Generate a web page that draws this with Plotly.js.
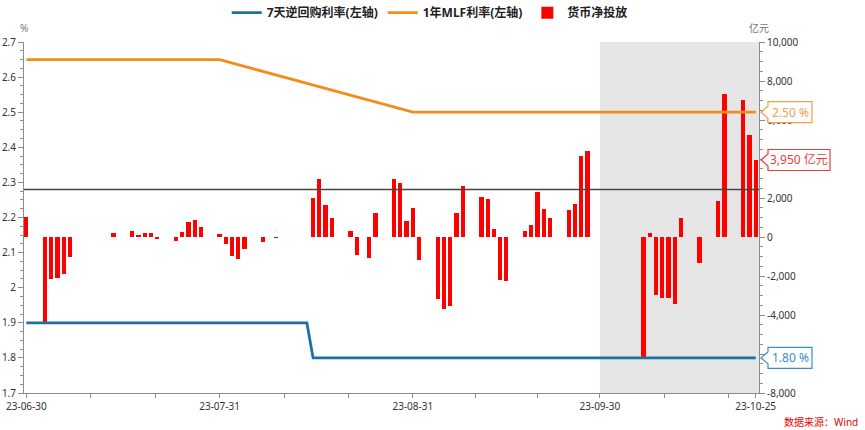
<!DOCTYPE html>
<html>
<head>
<meta charset="utf-8">
<script src="https://cdn.plot.ly/plotly-3.0.1.min.js"></script>
<style>html,body{margin:0;padding:0;background:#fff}#chart{width:865px;height:430px}</style>
</head>
<body>
<div id="chart"></div>
<script>
// ---------- data ----------
const repoDates  = ['2023-06-30', '2023-08-14', '2023-08-15', '2023-10-25'];
const repoRates  = [1.90, 1.90, 1.80, 1.80];

const mlfDates   = ['2023-06-30', '2023-07-31', '2023-08-31', '2023-09-30', '2023-10-25'];
const mlfRates   = [2.65, 2.65, 2.50, 2.50, 2.50];

const netDates = [
  '2023-06-30','2023-07-03','2023-07-04','2023-07-05','2023-07-06','2023-07-07',
  '2023-07-10','2023-07-13','2023-07-14','2023-07-17','2023-07-18','2023-07-19',
  '2023-07-20','2023-07-21','2023-07-24','2023-07-25','2023-07-26','2023-07-27',
  '2023-07-28','2023-07-31','2023-08-01','2023-08-02','2023-08-03','2023-08-04',
  '2023-08-07','2023-08-08','2023-08-09','2023-08-10','2023-08-14','2023-08-15',
  '2023-08-16','2023-08-17','2023-08-18','2023-08-21','2023-08-22','2023-08-23',
  '2023-08-24','2023-08-25','2023-08-28','2023-08-29','2023-08-30','2023-08-31',
  '2023-09-01','2023-09-04','2023-09-05','2023-09-06','2023-09-07','2023-09-08',
  '2023-09-11','2023-09-12','2023-09-13','2023-09-14','2023-09-15','2023-09-18',
  '2023-09-19','2023-09-20','2023-09-21','2023-09-22','2023-09-25','2023-09-26',
  '2023-09-27','2023-09-28','2023-10-07','2023-10-08','2023-10-09','2023-10-10',
  '2023-10-11','2023-10-12','2023-10-13','2023-10-16','2023-10-17','2023-10-18',
  '2023-10-19','2023-10-20','2023-10-23','2023-10-24','2023-10-25'
];
const netValues = [
  1010, -4390, -2150, -2110, -1910, -1010,
  -20, 20, 180, 300, 110, 230,
  220, -90, -200, 280, 780, 880,
  510, 170, -360, -950, -1110, -640,
  -270, -20, -70, 20, 20, 1990,
  2970, 1640, 960, 290, -920, -20,
  -1080, 1250, 3000, 2750, 820, 1490,
  -1200, -3190, -3700, -3550, 1210, 2630,
  2050, 1960, 410, -2200, -2240, 290,
  600, 2290, 1420, 970, 1370, 1710,
  4130, 4400, -6200, 190, -2970, -3110,
  -3140, -3450, 960, -1330, 20, 20,
  1830, 7340, 7050, 5240, 3950
];

const seriesNames = ['7天逆回购利率(左轴)', '1年MLF利率(左轴)', '货币净投放'];

const xTickVals = ['2023-06-30','2023-07-10 08:00','2023-07-20 16:00','2023-07-31',
                   '2023-08-10 08:00','2023-08-20 16:00','2023-08-31',
                   '2023-09-10','2023-09-20','2023-09-30',
                   '2023-10-10 08:00','2023-10-20 16:00','2023-10-25'];
const xTickText = ['23-06-30','','','23-07-31','','','23-08-31','','','23-09-30','','','23-10-25'];

const rightTickVals = [10000, 8000, 6000, 4000, 2000, 0, -2000, -4000, -6000, -8000];

const refLineValue = 2.28;          // horizontal reference line (left axis)
const shadeStart = '2023-09-30';    // grey shaded period start
const lastRepo = 1.80, lastMlf = 2.50, lastNet = 3950;

// ---------- styling ----------
const FONT = "'Noto Sans', 'Noto Sans CJK SC', sans-serif";
const BLUE = '#1E6FA2', ORANGE = '#F28C1C', RED = '#FF0000';
const AXC = '#8c8c8c';
const fmt = v => (v < 0 ? '-' : '') + Math.abs(v).toLocaleString('en-US');

const traces = [
  {x: repoDates, y: repoRates, name: seriesNames[0], type: 'scatter', mode: 'lines',
   yaxis: 'y2', line: {color: BLUE, width: 2.8}, hoverinfo: 'skip'},
  {x: mlfDates, y: mlfRates, name: seriesNames[1], type: 'scatter', mode: 'lines',
   yaxis: 'y2', line: {color: ORANGE, width: 2.8}, hoverinfo: 'skip'},
  {x: netDates, y: netValues, name: seriesNames[2], type: 'bar', yaxis: 'y',
   marker: {color: RED, line: {width: 0}}, width: 0.68 * 864e5, hoverinfo: 'skip'}
];

function callout(anchorY, yref, w, color, text) {
  return {
    shape: {type: 'path', xref: 'paper', yref: yref, xsizemode: 'pixel', ysizemode: 'pixel',
      xanchor: 1, yanchor: anchorY,
      path: `M2,0 L9,6 L9,10.5 L${9 + w},10.5 L${9 + w},-10.5 L9,-10.5 L9,-6 Z`,
      fillcolor: '#ffffff', line: {color: color, width: 1.2}, layer: 'above'},
    ann: {xref: 'paper', yref: yref, x: 1, y: anchorY, xanchor: 'center', yanchor: 'middle',
      xshift: 9 + w / 2, text: text, showarrow: false,
      font: {family: FONT, size: 12, color: color}}
  };
}
const c1 = callout(lastMlf, 'y2', 44, '#F4A04A', lastMlf.toFixed(2) + ' %');
const c2 = callout(lastNet, 'y', 62, '#EE3B3B', fmt(lastNet) + ' 亿元');
const c3 = callout(lastRepo, 'y2', 44, '#3C8CC2', lastRepo.toFixed(2) + ' %');

const layout = {
  width: 865, height: 430,
  margin: {l: 24, r: 106, t: 42, b: 37, pad: 0, autoexpand: false},
  paper_bgcolor: '#fff', plot_bgcolor: 'rgba(0,0,0,0)',
  font: {family: FONT, size: 10, color: '#333'},
  showlegend: true,
  legend: {orientation: 'h', x: 0.552, xanchor: 'center', y: 1.125, yanchor: 'top',
    font: {family: FONT, size: 12, color: '#222', weight: 'bold'},
    itemwidth: 30, tracegroupgap: 0, bgcolor: 'rgba(0,0,0,0)'},
  bargap: 0,
  xaxis: {type: 'date', range: ['2023-06-29 15:00', '2023-10-25 12:45'],
    showgrid: false, zeroline: false, showline: true, linecolor: AXC, linewidth: 1,
    tickmode: 'array', tickvals: xTickVals, ticktext: xTickText,
    ticks: 'outside', ticklen: 4, tickcolor: AXC, tickfont: {size: 10, color: '#333'}},
  yaxis: {side: 'right', range: [-8000, 10000], showgrid: false, zeroline: false,
    showline: true, linecolor: AXC, linewidth: 1,
    tickmode: 'array', tickvals: rightTickVals, ticktext: rightTickVals.map(fmt),
    ticks: 'outside', ticklen: 5, tickcolor: AXC, tickfont: {size: 10, color: '#333'},
    minor: {dtick: 500, tick0: 0, ticks: 'outside', ticklen: 3, tickcolor: AXC}},
  yaxis2: {overlaying: 'y', side: 'left', range: [1.7, 2.7], showgrid: false, zeroline: false,
    showline: true, linecolor: AXC, linewidth: 1, dtick: 0.1, tick0: 1.7,
    ticks: 'outside', ticklen: 5, tickcolor: AXC, tickfont: {size: 10, color: '#333'},
    minor: {dtick: 0.025, tick0: 1.7, ticks: 'outside', ticklen: 3, tickcolor: AXC}},
  shapes: [
    {type: 'rect', xref: 'x', yref: 'paper', x0: shadeStart, x1: '2023-10-25 12:45', y0: 0, y1: 1,
     fillcolor: '#E6E6E6', line: {width: 0}, layer: 'below'},
    {type: 'line', xref: 'paper', yref: 'y2', x0: 0, x1: 1, y0: refLineValue, y1: refLineValue,
     line: {color: '#454545', width: 1.5}, layer: 'above'},
    c1.shape, c2.shape, c3.shape
  ],
  annotations: [
    {xref: 'paper', yref: 'paper', x: 0, y: 1.04, xanchor: 'center', yanchor: 'middle',
     text: '%', showarrow: false, font: {size: 10, color: '#777'}},
    {xref: 'paper', yref: 'paper', x: 1, y: 1.04, xanchor: 'center', yanchor: 'middle',
     text: '亿元', showarrow: false, font: {size: 10, color: '#777'}},
    {xref: 'paper', yref: 'paper', x: 1.138, y: -0.083, xanchor: 'right', yanchor: 'middle',
     text: '数据来源：Wind', showarrow: false, font: {size: 10, color: '#E60000'}},
    c1.ann, c2.ann, c3.ann
  ]
};

Plotly.newPlot('chart', traces, layout, {staticPlot: true, displayModeBar: false});
</script>
</body>
</html>
